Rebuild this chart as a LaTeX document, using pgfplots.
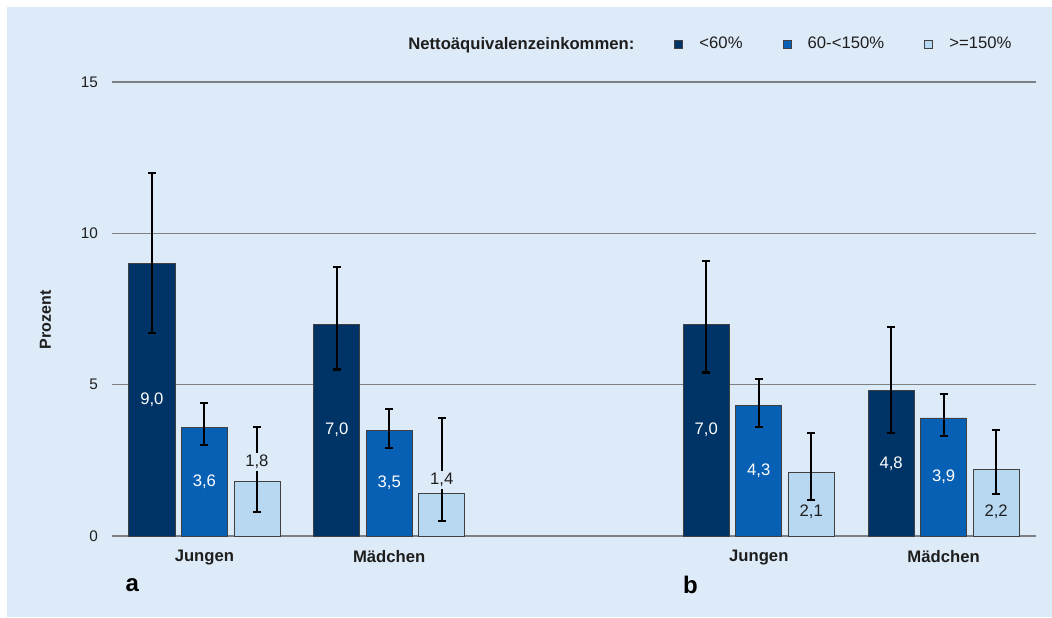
\documentclass[border=0pt]{standalone}
\usepackage{pgfplots}
\pgfplotsset{compat=1.18}
\usepackage{pgfplotstable}
\usepackage{fontspec}
\setmainfont{Liberation Sans}
\definecolor{bgblue}{RGB}{221,234,247}
\definecolor{cdark}{RGB}{0,52,102}
\definecolor{cmid}{RGB}{8,96,180}
\definecolor{clight}{RGB}{184,216,242}
\definecolor{txt}{RGB}{30,30,30}
\definecolor{gridc}{RGB}{125,128,132}

% x: 0 Jungen (a), 1 Maedchen (a), 3 Jungen (b), 4 Maedchen (b)
\pgfplotstableread{
x y ep em ly
0 9.0 3.0 2.3 4.5
1 7.0 1.9 1.5 3.5
3 7.0 2.1 1.6 3.5
4 4.8 2.1 1.4 2.4
}\lowtab
\pgfplotstableread{
x y ep em ly
0 3.6 0.8 0.6 1.8
1 3.5 0.7 0.6 1.75
3 4.3 0.9 0.7 2.15
4 3.9 0.8 0.6 1.95
}\midtab
\pgfplotstableread{
x y ep em ly
0 1.8 1.8 1.0 2.45
1 1.4 2.5 0.9 1.85
3 2.1 1.3 0.9 0.8
4 2.2 1.3 0.8 0.8
}\hightab

\begin{document}
\begin{tikzpicture}
\begin{axis}[
  set layers,
  at={(84pt,60.75pt)}, anchor=south west,
  scale only axis, width=693pt, height=340.5pt,
  xmin=-0.5, xmax=4.5, ymin=0, ymax=15,
  xtick={0,1,3,4},
  xticklabels={Jungen,Mädchen,Jungen,Mädchen},
  ytick={0,5,10,15},
  axis line style={draw=none},
  major tick length=0pt,
  ymajorgrids,
  grid style={line width=0.8pt, color=gridc},
  clip=false,
  /pgf/number format/assume math mode=true,
  yticklabel style={font=\fontsize{11.5}{13}\selectfont, text=txt, anchor=east, xshift=-7pt},
  xticklabel style={font=\bfseries\fontsize{12.5}{14}\selectfont, text=txt, yshift=-7pt},
  ylabel={Prozent},
  ylabel style={font=\bfseries\fontsize{12}{14}\selectfont, text=txt, at={(axis description cs:-0.072,0.476)}, anchor=center, rotate=0},
  legend columns=4,
  legend style={draw=none, fill=none, inner sep=0pt,
    at={(axis description cs:0.3028,1.0837)}, anchor=west,
    font=\fontsize{12.5}{14}\selectfont, text=txt,
    /tikz/every odd column/.append style={column sep=10.25pt},
    /tikz/every even column/.append style={column sep=28pt}},
  legend image code/.code={\draw[#1, line width=0.6pt] (0pt,-3pt) rectangle (6pt,3pt);},
  ebar/.style={error bars/.cd, y dir=both, y explicit,
    error bar style={line width=1.6pt, black},
    error mark options={rotate=90, mark size=3pt, line width=1.6pt, black}},
]
\begin{pgfonlayer}{axis background}
\fill[bgblue] (rel axis cs:-0.11364,-0.17841) rectangle (rel axis cs:1.01732,1.16520);
\end{pgfonlayer}

\addlegendimage{empty legend}
\addlegendentry{\textbf{Nettoäquivalenzeinkommen:}}

\addplot[ybar, bar width=34.5pt, bar shift=0pt, fill=cdark, draw=black!75, line width=0.6pt, ebar]
  table[x expr=\thisrow{x}-0.2841, y=y, y error plus=ep, y error minus=em]{\lowtab};
\addlegendentry{<60\%}
\addplot[ybar, bar width=34.5pt, bar shift=0pt, fill=cmid, draw=black!75, line width=0.6pt, ebar]
  table[x=x, y=y, y error plus=ep, y error minus=em]{\midtab};
\addlegendentry{60-<150\%}
\addplot[ybar, bar width=34.5pt, bar shift=0pt, fill=clight, draw=black!75, line width=0.6pt, ebar]
  table[x expr=\thisrow{x}+0.2841, y=y, y error plus=ep, y error minus=em]{\hightab};
\addlegendentry{>=150\%}

% value labels
\pgfplotsset{vlabel/.style={forget plot, on layer=axis foreground, draw=none, mark=none, point meta=explicit,
  nodes near coords={\pgfmathprintnumber[fixed, fixed zerofill, precision=1, use comma, assume math mode=true]{\pgfplotspointmeta}},
  every node near coord/.append style={anchor=center, font=\fontsize{12.5}{14}\selectfont}}}
\addplot[vlabel, every node near coord/.append style={text=white}]
  table[x expr=\thisrow{x}-0.2841, y=ly, meta=y]{\lowtab};
\addplot[vlabel, every node near coord/.append style={text=white}]
  table[x=x, y=ly, meta=y]{\midtab};
\addplot[vlabel, skip coords between index={2}{4}, every node near coord/.append style={text=txt, fill=bgblue, inner sep=1.5pt}]
  table[x expr=\thisrow{x}+0.2841, y=ly, meta=y]{\hightab};
\addplot[vlabel, skip coords between index={0}{2}, every node near coord/.append style={text=txt}]
  table[x expr=\thisrow{x}+0.2841, y=ly, meta=y]{\hightab};

\node[font=\bfseries\fontsize{18}{20}\selectfont, text=black] at (axis cs:-0.39,-1.62) {a};
\node[font=\bfseries\fontsize{18}{20}\selectfont, text=black] at (axis cs:2.63,-1.62) {b};
\end{axis}
\pgfresetboundingbox
\path[use as bounding box] (0pt,0pt) rectangle (789pt,462.75pt);
\end{tikzpicture}
\end{document}
